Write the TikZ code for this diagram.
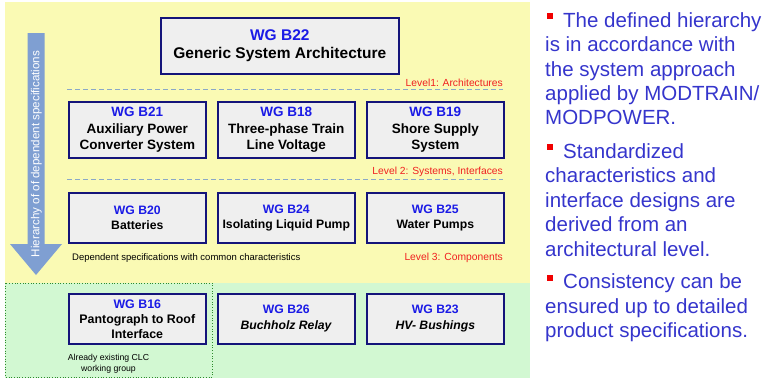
\documentclass[tikz,border=0pt]{standalone}
\usepackage{fontspec}
\setmainfont{Liberation Sans}
\begin{document}
\begin{tikzpicture}[x=1pt,y=-1pt,
  wgbox/.style={draw=navy,line width=1.6pt,fill=boxgray,inner sep=0pt,align=center,anchor=north west,text=black},
  wg/.style={text=wgblue},
  lvl/.style={text=lvlred,font=\fontsize{10.3}{11}\selectfont,anchor=base east,inner sep=0pt},
  sep/.style={draw=sepblue,dashed,dash pattern=on 5pt off 3pt,line width=0.9pt},
  rt/.style={text=rtblue,font=\fontsize{20.5}{23}\selectfont,anchor=base west,inner sep=0pt},
  bul/.style={fill=bulred,minimum size=6pt,inner sep=0pt,anchor=north west}]
\definecolor{navy}{HTML}{14147A}
\definecolor{boxgray}{HTML}{EFEFEF}
\definecolor{wgblue}{HTML}{1A1AE6}
\definecolor{lvlred}{HTML}{F02020}
\definecolor{sepblue}{HTML}{8AA8C8}
\definecolor{rtblue}{HTML}{3535CC}
\definecolor{bulred}{HTML}{F00000}
\definecolor{bgyellow}{HTML}{FAFAB4}
\definecolor{bggreen}{HTML}{D2F8D2}
\definecolor{arrowblue}{HTML}{7F9FD2}
\definecolor{dotgreen}{HTML}{2E8B2E}
\useasboundingbox (0,0) rectangle (763,378);
% backgrounds
\fill[bgyellow] (5,2) rectangle (530,283);
\fill[bggreen] (5,283) rectangle (530,378);
\draw[dotgreen,dotted,line width=0.7pt] (5.5,283) rectangle (212,377);
% arrow
\fill[arrowblue] (27.5,33) -- (44.5,33) -- (44.5,244) -- (62,244) -- (36,275) -- (10,244) -- (27.5,244) -- cycle;
\node[rotate=90,text=white,font=\fontsize{11.6}{12}\selectfont,inner sep=0pt] (arrowtxt) at (36.5,154) {Hierarchy of of dependent specifications};
% level 1
\node[wgbox,minimum width=238pt,minimum height=56pt,font=\bfseries\fontsize{15.5}{18.5}\selectfont] (b22) at (160,17) {\textcolor{wgblue}{WG B22}\\Generic System Architecture};
\coordinate (l1a) at (67,89); \coordinate (l1b) at (503,89);
\draw[sep] (l1a) -- (l1b);
\node[lvl] (lv1) at (503,86.5) {Level1: Architectures};
% level 2
\begin{scope}[every node/.append style={minimum width=137pt,minimum height=56pt,font=\bfseries\fontsize{13.5}{16.5}\selectfont}]
\node[wgbox] (b21) at (68,101) {\textcolor{wgblue}{WG B21}\\Auxiliary Power\\Converter System};
\node[wgbox] (b18) at (217,101) {\textcolor{wgblue}{WG B18}\\Three-phase Train\\Line Voltage};
\node[wgbox] (b19) at (366,101) {\textcolor{wgblue}{WG B19}\\Shore Supply\\System};
\end{scope}
\coordinate (l2a) at (67,179); \coordinate (l2b) at (503,179);
\draw[sep] (l2a) -- (l2b);
\node[lvl] (lv2) at (503,174) {Level 2: Systems, Interfaces};
% level 3
\begin{scope}[every node/.append style={minimum width=137pt,minimum height=50pt,font=\bfseries\fontsize{12.2}{15.5}\selectfont}]
\node[wgbox] (b20) at (68,192) {\textcolor{wgblue}{WG B20}\\Batteries};
\node[wgbox] (b24) at (217,192) {\textcolor{wgblue}{WG B24}\\Isolating Liquid Pump};
\node[wgbox] (b25) at (366,192) {\textcolor{wgblue}{WG B25}\\Water Pumps};
\end{scope}
\node[anchor=base west,inner sep=0pt,font=\fontsize{9.5}{10}\selectfont] (dep) at (72,260) {Dependent specifications with common characteristics};
\node[lvl] (lv3) at (503,260) {Level 3: Components};
% level 4
\begin{scope}[every node/.append style={minimum width=137pt,minimum height=50pt}]
\node[wgbox,font=\bfseries\fontsize{12.4}{15}\selectfont] (b16) at (68,293) {\textcolor{wgblue}{WG B16}\\Pantograph to Roof\\Interface};
\node[wgbox,font=\bfseries\fontsize{12.2}{16}\selectfont] (b26) at (217,293) {\textcolor{wgblue}{WG B26}\\\textit{Buchholz Relay}};
\node[wgbox,font=\bfseries\fontsize{12.2}{16}\selectfont] (b23) at (366,293) {\textcolor{wgblue}{WG B23}\\\textit{HV- Bushings}};
\end{scope}
\node[align=center,inner sep=0pt,font=\fontsize{8.7}{11}\selectfont,anchor=base] (clc) at (108.5,371) {Already existing CLC\\working group};
% right text
\node[bul] (bu1) at (547,13) {};
\node[rt] (t1) at (563,27) {The defined hierarchy};
\node[rt] (t2) at (545,51.5) {is in accordance with};
\node[rt] (t3) at (545,76) {the system approach};
\node[rt] (t4) at (545,100) {applied by MODTRAIN/};
\node[rt] (t5) at (545,124) {MODPOWER.};
\node[bul] (bu2) at (547,144) {};
\node[rt] (t6) at (563,158) {Standardized};
\node[rt] (t7) at (545,182.5) {characteristics and};
\node[rt] (t8) at (545,207) {interface designs are};
\node[rt] (t9) at (545,231.5) {derived from an};
\node[rt] (t10) at (545,256) {architectural level.};
\node[bul] (bu3) at (547,275) {};
\node[rt] (t11) at (563,288.5) {Consistency can be};
\node[rt] (t12) at (545,313) {ensured up to detailed};
\node[rt] (t13) at (545,337.5) {product specifications.};
\end{tikzpicture}
\end{document}
